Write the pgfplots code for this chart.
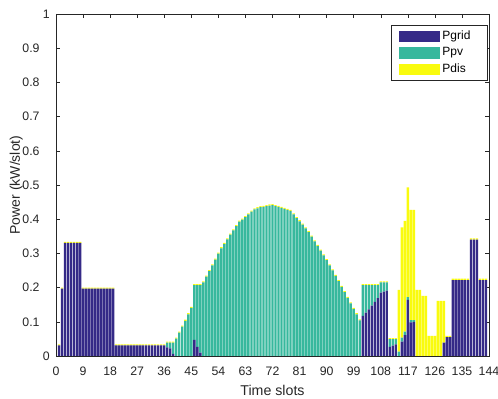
\documentclass[border=0pt]{standalone}
\usepackage{fontspec}
\setmainfont{Liberation Sans}
\usepackage{pgfplots}
\usepackage{pgfplotstable}
\pgfplotsset{compat=1.18}
\definecolor{cgrid}{RGB}{53,42,135}
\definecolor{cpv}{RGB}{55,184,157}
\definecolor{cdis}{RGB}{249,251,14}
\definecolor{axgray}{RGB}{38,38,38}
\pgfplotsset{
  mylegend/.style={legend image code/.code={\fill[##1] (0bp,-5.8bp) rectangle (41bp,5.8bp);}}
}
\pgfplotstableread{
x pgrid ppv pdis
1 0.031 0 0.003
2 0.197 0 0.003
3 0.331 0 0.003
4 0.331 0 0.003
5 0.331 0 0.003
6 0.331 0 0.003
7 0.331 0 0.003
8 0.331 0 0.003
9 0.197 0 0.003
10 0.197 0 0.003
11 0.197 0 0.003
12 0.197 0 0.003
13 0.197 0 0.003
14 0.197 0 0.003
15 0.197 0 0.003
16 0.197 0 0.003
17 0.197 0 0.003
18 0.197 0 0.003
19 0.197 0 0.003
20 0.031 0 0.003
21 0.031 0 0.003
22 0.031 0 0.003
23 0.031 0 0.003
24 0.031 0 0.003
25 0.031 0 0.003
26 0.031 0 0.003
27 0.031 0 0.003
28 0.031 0 0.003
29 0.031 0 0.003
30 0.031 0 0.003
31 0.031 0 0.003
32 0.031 0 0.003
33 0.031 0 0.003
34 0.031 0 0.003
35 0.031 0 0.003
36 0.031 0 0.003
37 0.025 0.014 0.003
38 0.022 0.017 0.003
39 0.006 0.033 0.003
40 0 0.051 0.003
41 0 0.068 0.003
42 0 0.086 0.003
43 0 0.103 0.003
44 0 0.122 0.003
45 0 0.141 0.003
46 0.047 0.160 0.003
47 0.027 0.180 0.003
48 0.010 0.197 0.003
49 0 0.215 0.003
50 0 0.232 0.003
51 0 0.248 0.003
52 0 0.265 0.003
53 0 0.282 0.003
54 0 0.299 0.003
55 0 0.315 0.003
56 0 0.328 0.003
57 0 0.341 0.003
58 0 0.355 0.003
59 0 0.367 0.003
60 0 0.380 0.003
61 0 0.393 0.003
62 0 0.399 0.003
63 0 0.406 0.003
64 0 0.414 0.003
65 0 0.422 0.003
66 0 0.429 0.003
67 0 0.432 0.003
68 0 0.435 0.003
69 0 0.436 0.003
70 0 0.438 0.003
71 0 0.440 0.003
72 0 0.441 0.003
73 0 0.438 0.003
74 0 0.436 0.003
75 0 0.433 0.003
76 0 0.430 0.003
77 0 0.427 0.003
78 0 0.424 0.003
79 0 0.414 0.003
80 0 0.403 0.003
81 0 0.394 0.003
82 0 0.384 0.003
83 0 0.373 0.003
84 0 0.362 0.003
85 0 0.349 0.003
86 0 0.335 0.003
87 0 0.322 0.003
88 0 0.308 0.003
89 0 0.294 0.003
90 0 0.280 0.003
91 0 0.265 0.003
92 0 0.250 0.003
93 0 0.234 0.003
94 0 0.219 0.003
95 0 0.202 0.003
96 0 0.187 0.003
97 0 0.170 0.003
98 0 0.154 0.003
99 0 0.138 0.003
100 0 0.122 0.003
101 0 0.104 0.003
102 0.117 0.090 0.003
103 0.127 0.080 0.003
104 0.136 0.071 0.003
105 0.147 0.060 0.003
106 0.158 0.049 0.003
107 0.169 0.038 0.003
108 0.185 0.030 0.003
109 0.188 0.027 0.003
110 0.191 0.024 0.003
111 0.027 0.022 0.003
112 0.030 0.019 0.003
113 0.034 0.015 0.003
114 0 0.013 0.180
115 0.042 0.012 0.322
116 0.061 0.010 0.324
117 0.164 0.008 0.321
118 0.098 0.007 0.322
119 0.100 0.005 0.322
120 0 0 0.193
121 0 0 0.193
122 0 0 0.176
123 0 0 0.176
124 0 0 0.059
125 0 0 0.059
126 0 0 0.059
127 0 0 0.161
128 0 0 0.161
129 0.039 0 0.122
130 0.055 0 0.004
131 0.055 0 0.004
132 0.222 0 0.004
133 0.222 0 0.004
134 0.222 0 0.004
135 0.222 0 0.004
136 0.222 0 0.004
137 0.222 0 0.004
138 0.340 0 0.004
139 0.340 0 0.004
140 0.340 0 0.004
141 0.222 0 0.004
142 0.222 0 0.004
143 0.222 0 0.004
}\datatable
\begin{document}
\begin{tikzpicture}
\begin{axis}[
  scale only axis, width=433bp, height=342bp,
  xmin=0, xmax=144, ymin=0, ymax=1,
  ybar stacked, bar width=0.8,
  xtick={0,9,18,27,36,45,54,63,72,81,90,99,108,117,126,135,144},
  xticklabels={0,9,18,27,36,45,54,63,72,81,90,99,108,117,126,135,144},
  ytick={0,0.1,0.2,0.3,0.4,0.5,0.6,0.7,0.8,0.9,1},
  yticklabels={0,0.1\hphantom{.1},0.2\hphantom{.1},0.3\hphantom{.1},0.4\hphantom{.1},0.5\hphantom{.1},0.6\hphantom{.1},0.7\hphantom{.1},0.8\hphantom{.1},0.9\hphantom{.1},1},
  tick align=inside, major tick length=4.3bp,
  tick style={axgray, line width=0.5bp},
  axis line style={axgray, line width=0.5bp},
  ticklabel style={font=\fontsize{12.3bp}{14bp}\selectfont, text=axgray},
  xticklabel style={inner sep=0pt, anchor=north, yshift=-10.5bp},
  yticklabel style={inner sep=0pt, anchor=east, xshift=-6bp},
  legend style={at={(1,1)}, anchor=north east, xshift=-2bp, yshift=-11bp,
    draw=axgray, line width=0.5bp, inner xsep=7.6bp, inner ysep=5.5bp,
    row sep=4.8bp, column sep=2.4bp,
    font=\fontsize{12bp}{14bp}\selectfont,
    nodes={inner sep=0pt, text height=8.6bp, text depth=2.5bp}},
  legend cell align=left,
]
\addplot[fill=cgrid, draw=none, mylegend] table[x=x, y=pgrid] {\datatable};
\addlegendentry{\makebox[36.7bp][l]{Pgrid}}
\addplot[fill=cpv, draw=none, mylegend] table[x=x, y=ppv] {\datatable};
\addlegendentry{\makebox[36.7bp][l]{Ppv}}
\addplot[fill=cdis, draw=none, mylegend] table[x=x, y=pdis] {\datatable};
\addlegendentry{\makebox[36.7bp][l]{Pdis}}
\coordinate (SW) at (rel axis cs:0,0);
\coordinate (NE) at (rel axis cs:1,1);
\coordinate (XL) at (rel axis cs:0.5,0);
\coordinate (YL) at (rel axis cs:0,0.5);
\end{axis}
\node[anchor=base, inner sep=0pt, font=\fontsize{14.2bp}{16bp}\selectfont, text=axgray] at ([yshift=-39bp]XL) {Time slots};
\node[rotate=90, anchor=base, inner sep=0pt, font=\fontsize{14bp}{16bp}\selectfont, text=axgray] at ([xshift=-36bp]YL) {Power (kW/slot)};
\pgfresetboundingbox
\path[use as bounding box] ([xshift=-56bp,yshift=-43bp]SW) rectangle ([xshift=9bp,yshift=14bp]NE);
\end{tikzpicture}
\end{document}
